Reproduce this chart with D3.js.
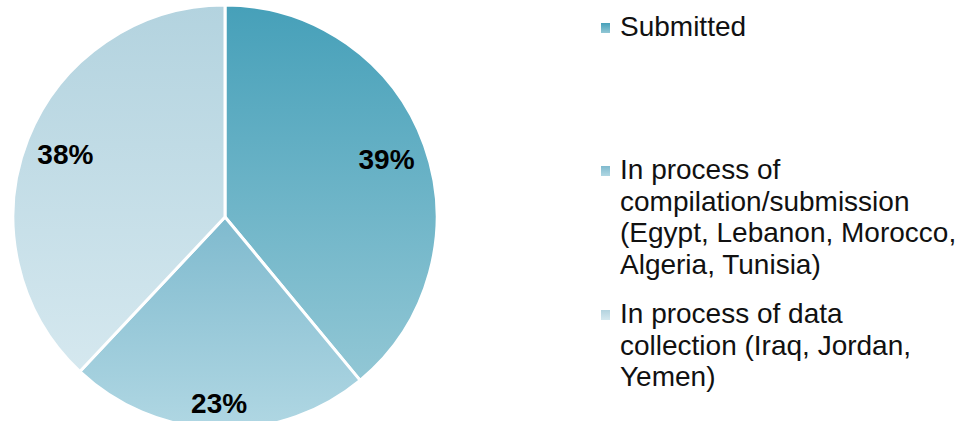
<!DOCTYPE html>
<html>
<head>
<meta charset="utf-8">
<script src="https://cdn.jsdelivr.net/npm/d3@7"></script>
<style>
  body { margin: 0; background: #fff; }
  svg { display: block; font-family: "Liberation Sans", Arial, sans-serif; }
  .pct { font-size: 28px; font-weight: bold; fill: #000; }
  .legend-text { font-size: 28px; fill: #111; }
</style>
</head>
<body>
<script>
const w = 957;
const h = 421;
const categories = ["Submitted", "In process of compilation/submission", "In process of data collection"];
const values = [39, 23, 38];
const legendLines = [
  ["Submitted"],
  ["In process of", "compilation/submission", "(Egypt, Lebanon, Morocco,", "Algeria, Tunisia)"],
  ["In process of data", "collection (Iraq, Jordan,", "Yemen)"]
];
const topColors = ["#46a0b9", "#7fbace", "#b3d3df"];
const bottomColors = ["#92c7d5", "#b0d7e3", "#d5e8ef"];

const cx = 225;
const cy = 217;
const R = 212;

const svg = d3.select("body").append("svg").attr("width", w).attr("height", h);
const defs = svg.append("defs");
categories.forEach((c, i) => {
  const g = defs.append("linearGradient")
    .attr("id", "grad" + i)
    .attr("x1", 0).attr("y1", 0).attr("x2", 0).attr("y2", 1);
  g.append("stop").attr("offset", "0%").attr("stop-color", topColors[i]);
  g.append("stop").attr("offset", "100%").attr("stop-color", bottomColors[i]);
});

const data = categories.map((c, i) => ({ name: c, value: values[i], i }));
const pie = d3.pie().sort(null).value((d) => d.value);
const arc = d3.arc().innerRadius(0).outerRadius(R);
const arcs = pie(data);

const g = svg.append("g").attr("transform", `translate(${cx},${cy})`);
g.selectAll("path")
  .data(arcs)
  .enter()
  .append("path")
  .attr("d", arc)
  .attr("fill", (d) => `url(#grad${d.data.i})`)
  .attr("stroke", "#fff")
  .attr("stroke-width", 3)
  .attr("stroke-linejoin", "round");

// labels, the small slice sits a bit further out
g.selectAll("text.pct")
  .data(arcs)
  .enter()
  .append("text")
  .attr("class", "pct")
  .attr("text-anchor", "middle")
  .attr("transform", (d) => {
    const r = d.data.value < 30 ? R * 0.88 : R * 0.81;
    const c = d3.arc().innerRadius(r).outerRadius(r).centroid(d);
    return `translate(${c[0]},${c[1] + 10})`;
  })
  .text((d) => d.data.value + "%");

// legend
const legendTop = [36, 179, 323];
const lineH = 31.7;
const legend = svg.append("g").attr("id", "legend");
legendLines.forEach((lines, i) => {
  const item = legend.append("g").attr("transform", `translate(601, ${legendTop[i]})`);
  item.append("rect")
    .attr("x", 0)
    .attr("y", -13)
    .attr("width", 9)
    .attr("height", 10)
    .attr("fill", `url(#grad${i})`);
  item.selectAll("text")
    .data(lines)
    .enter()
    .append("text")
    .attr("class", "legend-text")
    .attr("x", 19)
    .attr("y", (d, j) => j * lineH)
    .text((d) => d);
});
</script>
</body>
</html>
